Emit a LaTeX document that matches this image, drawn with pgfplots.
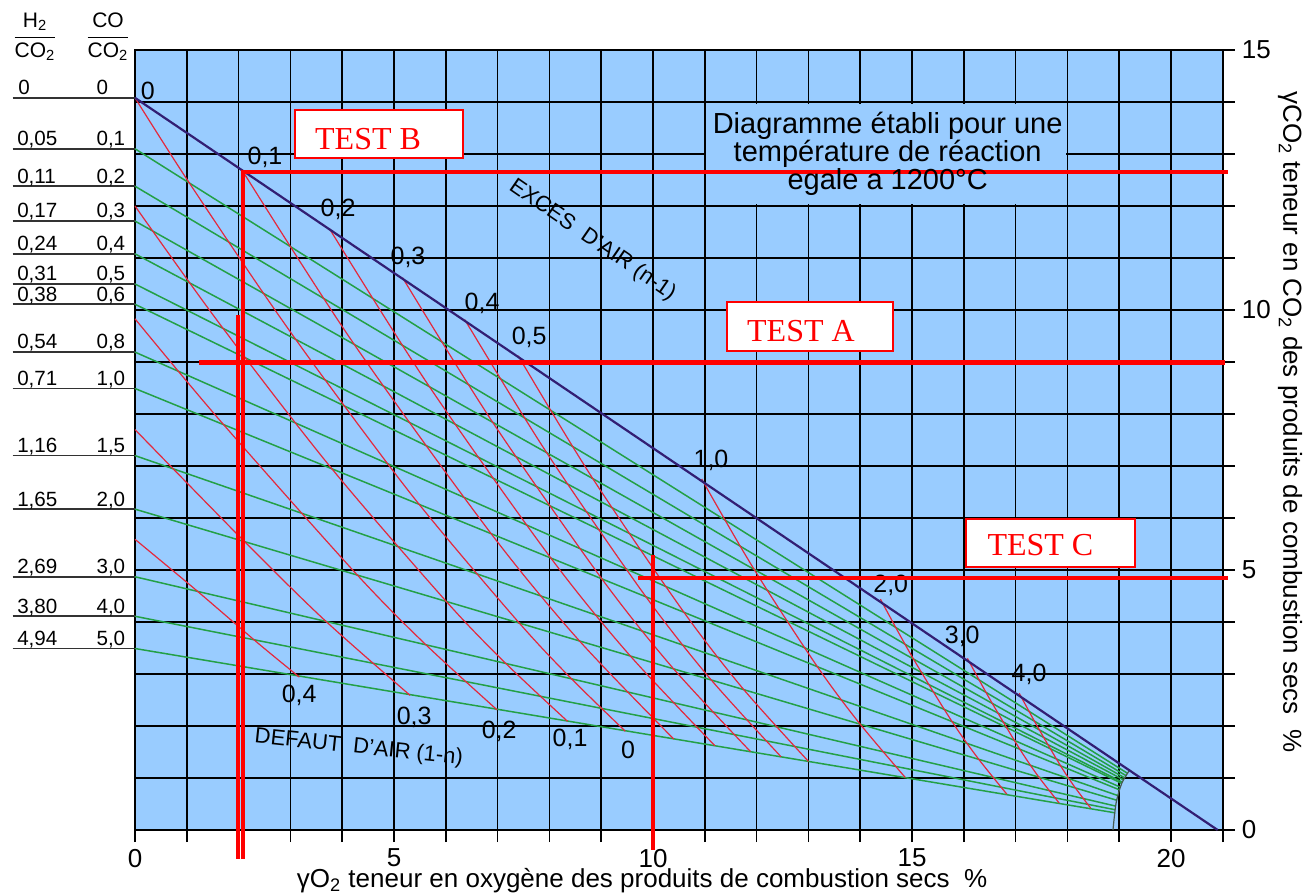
\documentclass[border=0pt]{standalone}
\usepackage{fontspec}
\setmainfont{Liberation Sans}
\newfontfamily\timesfont{Liberation Serif}
\usepackage{pgfplots}
\pgfplotsset{compat=1.18}
\definecolor{bgblue}{RGB}{153,204,255}
\definecolor{gline}{RGB}{35,160,70}
\definecolor{rline}{RGB}{228,40,60}
\definecolor{pline}{RGB}{50,30,115}
\definecolor{rowgray}{RGB}{50,50,50}
\definecolor{curvec}{RGB}{70,90,80}
\definecolor{testred}{RGB}{255,0,0}
\tikzset{
  lbl/.style={font=\fontsize{12.5}{12.5}\selectfont, inner sep=0pt},
  rowlbl/.style={font=\fontsize{10.3}{10.3}\selectfont, anchor=base west, inner sep=0pt},
  testtxt/.style={font=\timesfont\fontsize{16}{16}\selectfont, text=testred, anchor=base west, inner sep=0pt},
  diag/.style={font=\fontsize{14.5}{14.5}\selectfont, anchor=base, inner sep=0pt},
}
\begin{document}
\begin{tikzpicture}
\useasboundingbox (-67.5pt,-31.5pt) rectangle (587.5pt,415pt);
\begin{axis}[
  scale only axis, width=543.9pt, height=390pt,
  xmin=0, xmax=21, ymin=0, ymax=15, clip=false,
  axis background/.style={fill=bgblue},
  xtick={0,...,21}, ytick={0,...,15},
  xticklabels={0,,,,,5,,,,,10,,,,,15,,,,,20,},
  yticklabels={0,,,,,5,,,,,10,,,,,15},
  xtick pos=left, ytick pos=right, yticklabel pos=right,
  tick align=outside, major tick length=6pt,
  tick style={black, line width=0.85pt},
  grid=major, grid style={black, line width=0.85pt},
  axis line style={black, line width=0.9pt},
  ticklabel style={font=\fontsize{13}{13}\selectfont},
  /pgf/number format/assume math mode=true,
]
% box behind the note
\fill[bgblue] (axis cs:11.03,12.03) rectangle (axis cs:17.97,13.97);

% green lines CO/CO2 = const
\addplot[gline, line width=0.75pt] coordinates {(0,13.10) (19.16,1.09)};
\addplot[gline, line width=0.75pt] coordinates {(0,12.38) (19.14,1.04)};
\addplot[gline, line width=0.75pt] coordinates {(0,11.71) (19.11,1.00)};
\addplot[gline, line width=0.75pt] coordinates {(0,11.08) (19.09,0.96)};
\addplot[gline, line width=0.75pt] coordinates {(0,10.50) (19.06,0.92)};
\addplot[gline, line width=0.75pt] coordinates {(0,10.11) (19.05,0.895)};
\addplot[gline, line width=0.75pt] coordinates {(0,9.19) (19.03,0.82)};
\addplot[gline, line width=0.75pt] coordinates {(0,8.49) (19.01,0.77)};
\addplot[gline, line width=0.75pt] coordinates {(0,7.20) (18.98,0.66)};
\addplot[gline, line width=0.75pt] coordinates {(0,6.17) (18.96,0.57)};
\addplot[gline, line width=0.75pt] coordinates {(0,4.87) (18.93,0.46)};
\addplot[gline, line width=0.75pt] coordinates {(0,4.11) (18.92,0.39)};
\addplot[gline, line width=0.75pt] coordinates {(0,3.49) (18.92,0.33)};

% red lines: air ratio = const
\addplot[rline, line width=0.6pt, smooth] coordinates {(0,14.08) (0.945,12.60) (2.439,10.38) (3.564,8.80) (5.423,6.34) (7.366,4.04) (8.384,2.95) (9.465,1.90)};
\addplot[rline, line width=0.6pt, smooth] coordinates {(0,12.0) (1.585,9.80) (3.732,7.03) (5.96,4.45) (7.12,3.24) (8.35,2.09)};
\addplot[rline, line width=0.6pt, smooth] coordinates {(0,9.83) (1.628,7.89) (4.23,4.97) (5.576,3.60) (6.99,2.31)};
\addplot[rline, line width=0.6pt, smooth] coordinates {(0,7.70) (2.051,5.61) (3.645,4.05) (5.31,2.59)};
\addplot[rline, line width=0.6pt, smooth] coordinates {(0,5.59) (1.16,4.63) (2.366,3.60) (3.173,2.94)};
\addplot[rline, line width=0.6pt, smooth] coordinates {(2.06,12.70) (4.19,9.40) (6.813,5.78) (8.532,3.69) (10.40,1.75)};
\addplot[rline, line width=0.6pt, smooth] coordinates {(3.75,11.57) (5.64,8.59) (7.976,5.30) (9.515,3.40) (11.195,1.62)};
\addplot[rline, line width=0.6pt, smooth] coordinates {(5.166,10.62) (6.859,7.91) (8.961,4.90) (10.353,3.15) (11.88,1.51)};
\addplot[rline, line width=0.6pt, smooth] coordinates {(6.366,9.815) (7.899,7.33) (9.809,4.56) (11.078,2.94) (12.47,1.41)};
\addplot[rline, line width=0.6pt, smooth] coordinates {(7.397,9.12) (8.797,6.82) (10.545,4.26) (11.71,2.75) (13.0,1.32)};
\addplot[rline, line width=0.6pt, smooth] coordinates {(10.94,6.75) (11.91,5.08) (13.132,3.20) (13.955,2.09) (14.87,1.01)};
\addplot[rline, line width=0.6pt, smooth] coordinates {(14.39,4.44) (14.98,3.37) (15.737,2.14) (16.25,1.41) (16.83,0.69)};
\addplot[rline, line width=0.6pt, smooth] coordinates {(16.07,3.30) (16.50,2.52) (17.046,1.61) (17.417,1.06) (17.84,0.52)};
\addplot[rline, line width=0.6pt, smooth] coordinates {(17.07,2.63) (17.41,2.01) (17.834,1.29) (18.124,0.85) (18.45,0.42)};

% end curve
\addplot[curvec, line width=0.6pt, smooth] coordinates {(18.88,0) (18.94,0.52) (19.05,0.9) (19.2,1.15)};

% excess air line
\addplot[pline, line width=1.1pt] coordinates {(0,14.08) (20.9,0)};

% left reference lines
\pgfplotsinvokeforeach{14.08,13.10,12.38,11.71,11.08,10.50,10.11,9.19,8.49,7.20,6.17,4.87,4.11,3.49}{
  \addplot[rowgray, line width=0.8pt] coordinates {(-2.36,#1) (0,#1)};
}

% left labels
\node at (axis cs:-1.93,15.25) {\fontsize{10.5}{12}\selectfont$\displaystyle\frac{\mbox{H\textsubscript{2}}}{\mbox{CO\textsubscript{2}}}$};
\node at (axis cs:-0.52,15.25) {\fontsize{10.5}{12}\selectfont$\displaystyle\frac{\mbox{CO}}{\mbox{CO\textsubscript{2}}}$};
\node[rowlbl] at (axis cs:-2.26,14.14) {0};     \node[rowlbl] at (axis cs:-0.75,14.14) {0};
\node[rowlbl] at (axis cs:-2.28,13.16) {0,05};  \node[rowlbl] at (axis cs:-0.75,13.16) {0,1};
\node[rowlbl] at (axis cs:-2.28,12.44) {0,11};  \node[rowlbl] at (axis cs:-0.75,12.44) {0,2};
\node[rowlbl] at (axis cs:-2.28,11.77) {0,17};  \node[rowlbl] at (axis cs:-0.75,11.77) {0,3};
\node[rowlbl] at (axis cs:-2.28,11.14) {0,24};  \node[rowlbl] at (axis cs:-0.75,11.14) {0,4};
\node[rowlbl] at (axis cs:-2.28,10.56) {0,31};  \node[rowlbl] at (axis cs:-0.75,10.56) {0,5};
\node[rowlbl] at (axis cs:-2.28,10.17) {0,38};  \node[rowlbl] at (axis cs:-0.75,10.17) {0,6};
\node[rowlbl] at (axis cs:-2.28,9.25) {0,54};   \node[rowlbl] at (axis cs:-0.75,9.25) {0,8};
\node[rowlbl] at (axis cs:-2.28,8.55) {0,71};   \node[rowlbl] at (axis cs:-0.75,8.55) {1,0};
\node[rowlbl] at (axis cs:-2.28,7.26) {1,16};   \node[rowlbl] at (axis cs:-0.75,7.26) {1,5};
\node[rowlbl] at (axis cs:-2.28,6.23) {1,65};   \node[rowlbl] at (axis cs:-0.75,6.23) {2,0};
\node[rowlbl] at (axis cs:-2.28,4.93) {2,69};   \node[rowlbl] at (axis cs:-0.75,4.93) {3,0};
\node[rowlbl] at (axis cs:-2.28,4.17) {3,80};   \node[rowlbl] at (axis cs:-0.75,4.17) {4,0};
\node[rowlbl] at (axis cs:-2.28,3.55) {4,94};   \node[rowlbl] at (axis cs:-0.75,3.55) {5,0};

% labels on the excess air line
\node[lbl] at (axis cs:0.25,14.21) {0};
\node[lbl] at (axis cs:2.51,12.94) {0,1};
\node[lbl] at (axis cs:3.92,11.94) {0,2};
\node[lbl] at (axis cs:5.27,11.02) {0,3};
\node[lbl] at (axis cs:6.70,10.12) {0,4};
\node[lbl] at (axis cs:7.61,9.48) {0,5};
\node[lbl] at (axis cs:11.12,7.10) {1,0};
\node[lbl] at (axis cs:14.59,4.71) {2,0};
\node[lbl] at (axis cs:15.97,3.73) {3,0};
\node[lbl] at (axis cs:17.26,3.00) {4,0};
% labels of the lack of air
\node[lbl] at (axis cs:3.17,2.58) {0,4};
\node[lbl] at (axis cs:5.39,2.17) {0,3};
\node[lbl] at (axis cs:7.03,1.90) {0,2};
\node[lbl] at (axis cs:8.40,1.74) {0,1};
\node[lbl] at (axis cs:9.52,1.55) {0};

\node[rotate=-34.5, font=\fontsize{11}{11}\selectfont, inner sep=0pt] at (axis cs:8.83,11.34) {EXCES\ \ D'AIR (n-1)};
\node[rotate=-6, font=\fontsize{11}{11}\selectfont, inner sep=0pt] at (axis cs:4.32,1.58) {DEFAUT\ \ D'AIR (1-n)};

% note
\node[diag] at (axis cs:14.53,13.40) {Diagramme établi pour une};
\node[diag] at (axis cs:14.53,12.85) {température de réaction};

% test lines
\addplot[testred, line width=2.2pt] coordinates {(2.09,-0.55) (2.09,12.65) (21.1,12.65)};
\addplot[testred, line width=2.2pt] coordinates {(1.99,9.9) (1.99,-0.55)};
\addplot[testred, line width=2.2pt] coordinates {(1.24,8.99) (21.04,8.99)};
\addplot[testred, line width=2.2pt] coordinates {(9.71,4.85) (21.1,4.85)};
\addplot[testred, line width=2.2pt] coordinates {(10.0,5.29) (10.0,-0.38)};

\node[diag] at (axis cs:14.53,12.31) {egale a 1200°C};

% test boxes
\draw[testred, line width=1pt, fill=white] (axis cs:3.09,12.92) rectangle (axis cs:6.33,13.85);
\node[testtxt] at (axis cs:3.47,13.09) {TEST B};
\draw[testred, line width=1pt, fill=white] (axis cs:11.43,9.21) rectangle (axis cs:14.63,10.15);
\node[testtxt] at (axis cs:11.81,9.40) {TEST A};
\draw[testred, line width=1pt, fill=white] (axis cs:16.04,5.06) rectangle (axis cs:19.31,5.99);
\node[testtxt] at (axis cs:16.45,5.27) {TEST C};

% axis titles
\node[anchor=base, font=\fontsize{13}{13}\selectfont, inner sep=0pt] at (axis cs:9.79,-1.10) {γO\textsubscript{2} teneur en oxygène des produits de combustion secs\ \ \%};
\node[rotate=-90, font=\fontsize{13}{13}\selectfont, inner sep=0pt] at (axis cs:22.30,7.85) {γCO\textsubscript{2} teneur en CO\textsubscript{2} des produits de combustion secs\ \ \%};
\end{axis}
\end{tikzpicture}
\end{document}
